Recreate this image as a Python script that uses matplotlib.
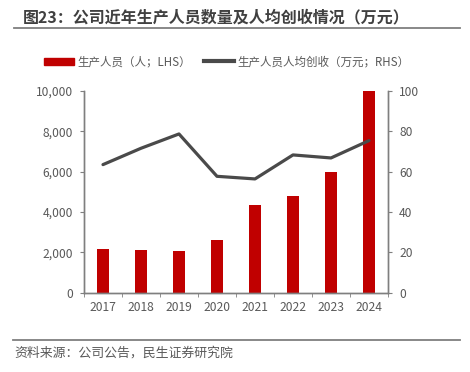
import numpy as np
import matplotlib
matplotlib.use('Agg')
import matplotlib.pyplot as plt
from matplotlib.lines import Line2D
from matplotlib.patches import Patch

plt.rcParams['font.family'] = ['Noto Sans CJK SC', 'DejaVu Sans']

years = ['2017', '2018', '2019', '2020', '2021', '2022', '2023', '2024']
staff = [2170, 2100, 2050, 2630, 4330, 4780, 6000, 10000]
rev_per_staff = [63.5, 71.6, 78.7, 57.7, 56.4, 68.3, 66.8, 75.4]
left_ticks = [0, 2000, 4000, 6000, 8000, 10000]
right_ticks = [0, 20, 40, 60, 80, 100]

red = '#C00000'
dark = '#4a4a4a'
grey = '#7f7f7f'
txt = '#595959'

fig = plt.figure(figsize=(4.7, 3.72), dpi=100)
ax = fig.add_axes([0.1787, 0.2132, 0.6468, 0.5422])
ax2 = ax.twinx()

x = np.arange(len(years))
ax.bar(x, staff, width=0.32, color=red, zorder=2)
ax2.plot(x, rev_per_staff, color=dark, lw=2.3, solid_capstyle='round')

ax.set_xlim(-0.5, len(years) - 0.5)
ax.set_ylim(0, 10000)
ax2.set_ylim(0, 100)
ax.set_xticks(x)
ax.set_xticklabels(years)
ax.set_xticks(np.arange(-0.5, len(years)), minor=True)
ax.tick_params(axis='x', which='major', length=0, pad=6, labelsize=8.7, labelcolor=txt)
ax.tick_params(axis='x', which='minor', length=3, color=grey, direction='out')
ax.set_yticks(left_ticks)
ax.set_yticklabels([f'{v:,}' for v in left_ticks])
ax.tick_params(axis='y', length=3, color=grey, labelsize=8.7, labelcolor=txt, pad=5)
ax2.set_yticks(right_ticks)
ax2.tick_params(axis='y', length=3, color=grey, labelsize=8.7, labelcolor=txt, pad=5)

for a in (ax, ax2):
    a.spines['top'].set_visible(False)
    for s in ('left', 'right', 'bottom'):
        a.spines[s].set_color(grey)
        a.spines[s].set_linewidth(1.0)

handles = [Patch(color=red), Line2D([], [], color=dark, lw=3)]
labels = ['生产人员（人；LHS）', '生产人员人均创收（万元；RHS）']
fig.legend(handles, labels, loc='center', bbox_to_anchor=(0.482, 0.834), ncol=2,
           frameon=False, fontsize=8.3, handlelength=2.6, handleheight=0.6,
           handletextpad=0.3, columnspacing=1.1, labelcolor=txt)

fig.text(0.049, 0.952, '图23：公司近年生产人员数量及人均创收情况（万元）',
         fontsize=11.5, fontweight='bold', color='#404040', va='center', ha='left')
fig.add_artist(Line2D([0.03, 0.978], [0.925, 0.925], color=grey, lw=1.3))
fig.add_artist(Line2D([0.028, 0.978], [0.086, 0.086], color=grey, lw=1.3))
fig.text(0.03, 0.05, '资料来源：公司公告，民生证券研究院', fontsize=9.3,
         color=txt, va='center', ha='left')

fig.savefig('out.png', dpi=100)
